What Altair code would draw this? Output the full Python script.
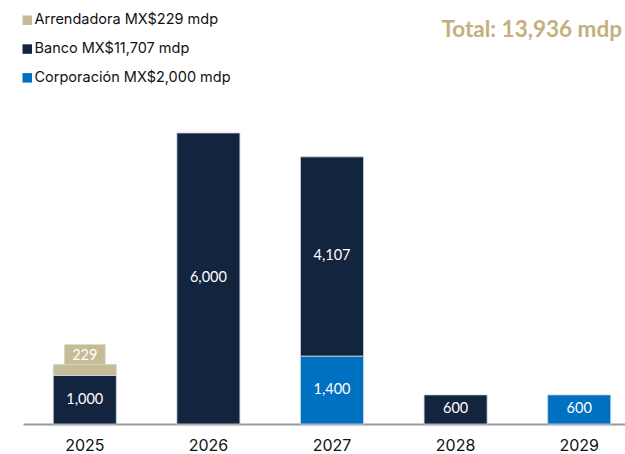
import altair as alt
import pandas as pd

years = ["2025", "2026", "2027", "2028", "2029"]
# stacking order, bottom -> top
series = ["Corporación", "Banco", "Arrendadora"]
corporacion = [0, 0, 1400, 0, 600]
banco = [1000, 6000, 4107, 600, 0]
arrendadora = [229, 0, 0, 0, 0]
colors = {"Arrendadora": "#C5BC96", "Banco": "#13243F", "Corporación": "#0070C0"}

values = {"Corporación": corporacion, "Banco": banco, "Arrendadora": arrendadora}
totals = {k: sum(v) for k, v in values.items()}
grand = sum(totals.values())


def label(name):
    return f"{name} MX${totals[name]:,} mdp"


rows = []
for i, yr in enumerate(years):
    base = 0
    for s in series:
        v = values[s][i]
        if v == 0:
            continue
        rows.append(dict(year=yr, serie=label(s), key=s, value=v, start=base,
                         end=base + v, mid=base + v / 2, text=f"{v:,}"))
        base += v
df = pd.DataFrame(rows)

legend_order = ["Arrendadora", "Banco", "Corporación"]
legend_domain = [label(s) for s in legend_order]
legend_range = [colors[s] for s in legend_order]

xscale = alt.Scale(domain=years, range=[1, 619], paddingInner=0.49, paddingOuter=0.245)
xenc = alt.X("year:N", title=None, scale=xscale,
             axis=alt.Axis(labelAngle=0, ticks=False, tickSize=0, labelPadding=13,
                           labelFont="Inter", labelFontSize=16, labelColor="#111111",
                           domainColor="#9a9a9a", domainWidth=2, grid=False))
yscale = alt.Scale(domain=[0, 6700], nice=False, zero=True)

bars = alt.Chart(df).mark_bar(stroke="#cdd4de", strokeWidth=0.8).encode(
    x=xenc,
    y=alt.Y("start:Q", scale=yscale, axis=None),
    y2="end:Q",
    color=alt.Color("serie:N", scale=alt.Scale(domain=legend_domain, range=legend_range),
                    legend=alt.Legend(orient="none", legendX=-2, legendY=-86,
                                      direction="vertical", title=None,
                                      symbolType="square", symbolSize=90,
                                      symbolStrokeWidth=0, labelFont="Inter",
                                      labelFontSize=14.5, labelColor="#111111",
                                      labelLimit=0, rowPadding=13.8, labelOffset=0,
                                      padding=0, symbolOffset=0)),
)

arr = df[df.key == "Arrendadora"]
box = alt.Chart(arr).mark_bar(size=41, y2Offset=-20, stroke="#e0dccb", strokeWidth=0.6,
                              color=colors["Arrendadora"]).encode(
    x="year:N",
    y=alt.Y("end:Q", scale=yscale, axis=None),
    y2="end:Q",
)

mid_labels = alt.Chart(df[df.key != "Arrendadora"]).mark_text(
    color="white", font="Lato", fontSize=14.5, baseline="middle").encode(
    x="year:N", y=alt.Y("mid:Q", scale=yscale, axis=None), text="text:N")

top_labels = alt.Chart(arr).mark_text(
    color="white", font="Lato", fontSize=14.5, baseline="middle", dy=-8).encode(
    x="year:N", y=alt.Y("end:Q", scale=yscale, axis=None), text="text:N")

total_df = pd.DataFrame({"t": [f"Total: {grand:,} mdp"]})
total = alt.Chart(total_df).mark_text(
    align="right", baseline="alphabetic", font="Lato", fontWeight="bold",
    fontSize=22.5, color="#C5AF80").encode(
    x=alt.value(600), y=alt.value(-62), text="t:N")

chart = alt.layer(bars, box, mid_labels, top_labels, total).properties(
    width=603, height=325,
    padding={"left": 22, "top": 99, "right": 0, "bottom": 30},
    autosize=alt.AutoSizeParams(type="none"),
).configure_view(stroke=None)

chart.save("out.html", embed_options={"renderer": "svg", "actions": False})
